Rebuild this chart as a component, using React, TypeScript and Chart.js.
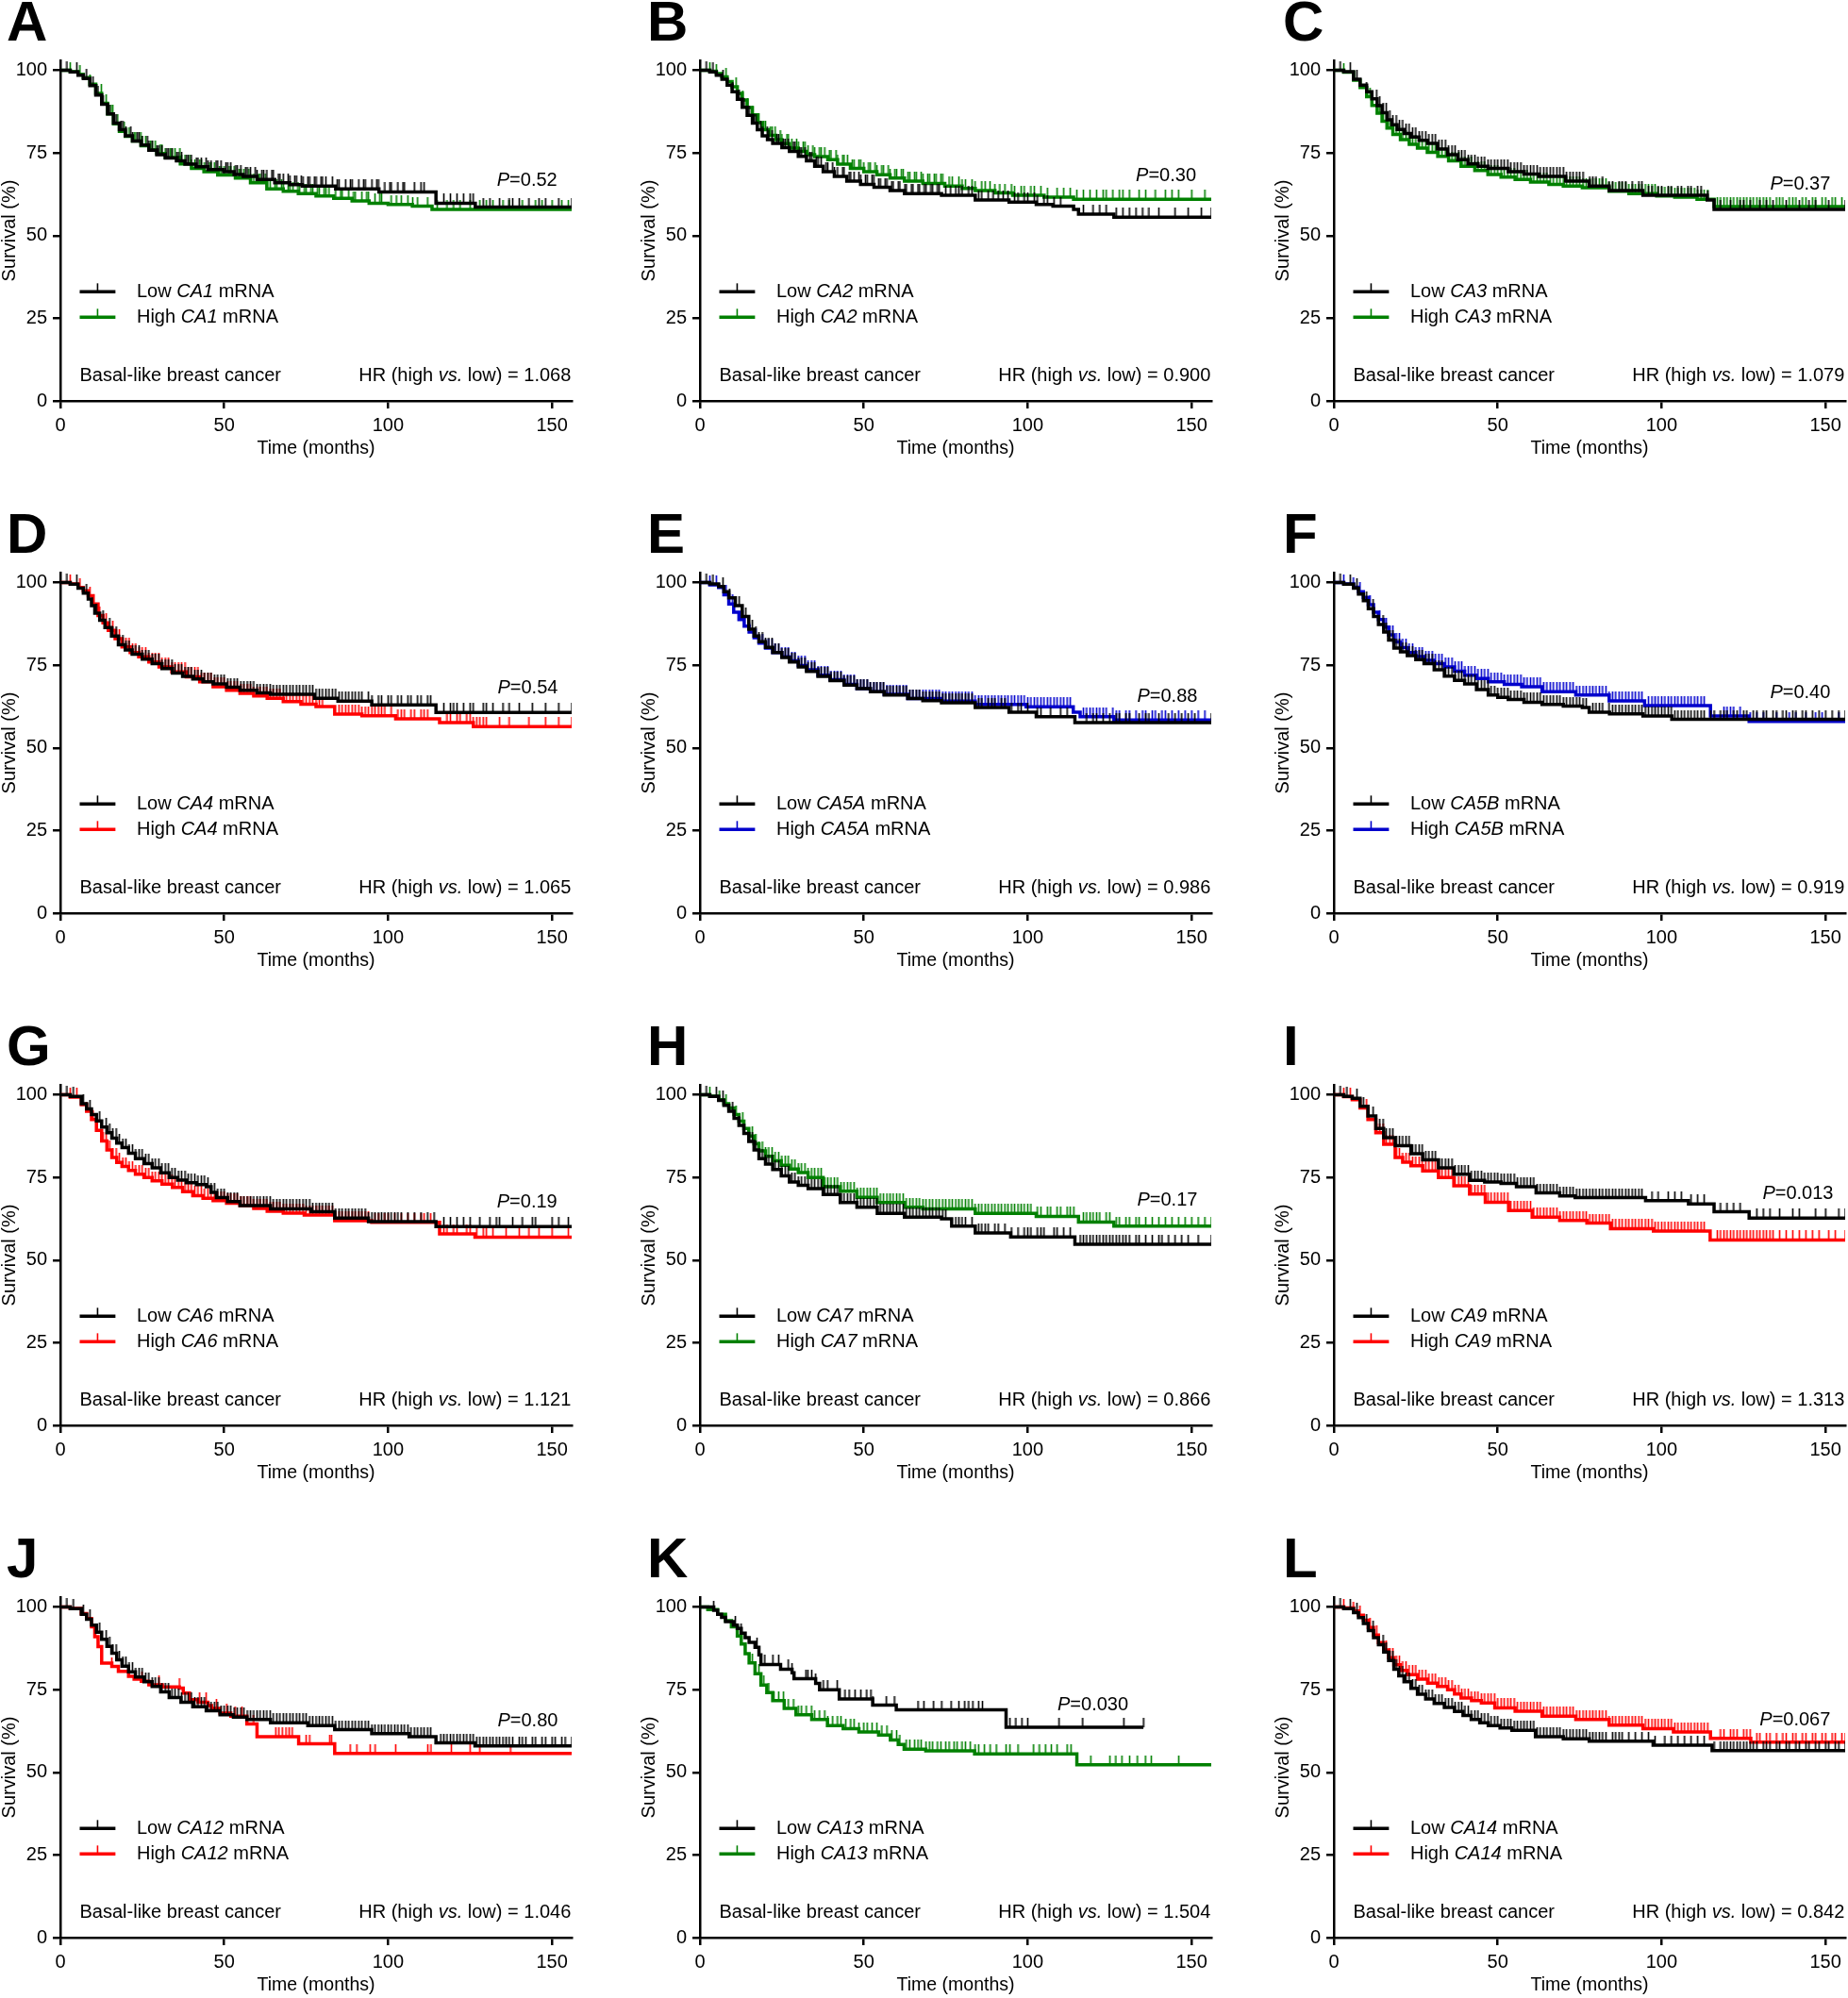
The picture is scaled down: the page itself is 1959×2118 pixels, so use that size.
import React, { useEffect, useRef } from 'react';
import { Chart, registerables } from 'chart.js';

Chart.register(...registerables);

const FONT = '"Liberation Sans", Arial, Helvetica, sans-serif';
const BLACK = '#000000';
const GREEN = '#008000';
const RED = '#ff0000';
const BLUE = '#0000cc';

// ---------- axis ticks ----------
const xTickValues = [0, 50, 100, 150];
const yTickValues = [0, 25, 50, 75, 100];
const X_MAX = 156;
const Y_MAX = 103;

// ---------- panel labels ----------
const panelLetters = ['A', 'B', 'C', 'D', 'E', 'F', 'G', 'H', 'I', 'J', 'K', 'L'];
const geneNames = ['CA1', 'CA2', 'CA3', 'CA4', 'CA5A', 'CA5B', 'CA6', 'CA7', 'CA9', 'CA12', 'CA13', 'CA14'];
const pValues = ['0.52', '0.30', '0.37', '0.54', '0.88', '0.40', '0.19', '0.17', '0.013', '0.80', '0.030', '0.067'];
const hrValues = ['1.068', '0.900', '1.079', '1.065', '0.986', '0.919', '1.121', '0.866', '1.313', '1.046', '1.504', '0.842'];
const highColors = [GREEN, GREEN, GREEN, RED, BLUE, BLUE, RED, GREEN, RED, RED, GREEN, RED];
const pLabelX = [151.6, 151.4, 151.5, 151.8, 151.8, 151.5, 151.6, 151.8, 152.4, 151.8, 130.7, 151.5];
const pLabelY = [66.6, 68.0, 65.6, 68.1, 65.6, 66.6, 67.6, 68.1, 70.0, 65.4, 70.4, 65.9];

// ---------- survival steps [months, survival %] ----------
const ca1Low = [[0,100],[3,99.5],[5.4,98.5],[7,97.5],[9,95.4],[10.8,92.5],[12.6,89.7],[14.4,86.8],[16.2,84],[18,82],[19.8,80.2],[22,78.6],[24.6,77.4],[27,75.8],[29.4,74.5],[32,73.5],[35.4,72.6],[38,71.6],[41.4,70.8],[45,70],[49.8,69.3],[53,68.5],[55.8,67.9],[60,67],[65.4,66],[70,65.4],[73.8,65],[84,64.1],[97.2,63.2],[114.6,59.8],[126.6,58.6],[156,58.6]];
const ca1High = [[0,100],[3,99.6],[5.4,98.8],[7,97.8],[9,95.8],[10.8,93],[12.6,90],[14.4,86.8],[16.2,83.8],[18,81.5],[19.8,80],[22,78.6],[24.6,77.2],[27,76],[29.4,74.8],[32,73.6],[36.6,71.7],[40,70.3],[43.8,69.3],[48,68.3],[53.4,67.4],[58,66],[63,64.1],[68,63.4],[72.6,62.7],[78,62],[83.4,61.3],[89,60.5],[94.2,59.8],[100,59.4],[107.4,58.9],[113.4,57.9],[156,57.9]];
const ca2Low = [[0,100],[3,99.5],[5,98.5],[6.7,97.3],[8.3,95.5],[9.8,93.5],[11.4,91.2],[12.9,88.8],[14.4,86.4],[16,84],[17.5,82],[19,80.2],[20.6,79],[22.2,77.9],[25,76.6],[27.3,75.5],[30,74],[32.5,72.6],[35,71],[37.6,69.3],[41,67.9],[44.8,66.5],[49,65.5],[53.1,64.6],[58,63.6],[62.4,62.7],[73.7,62.2],[84,60.8],[94.3,60.1],[102.6,59.4],[107.7,58.9],[114,57.9],[115.5,56.5],[126.3,55.6],[156,55.6]];
const ca2High = [[0,100],[3,99.7],[5,99],[6.7,98],[8.3,96.6],[9.8,95],[11.4,93],[12.9,91],[14.4,88.7],[16,86.5],[17.5,84.2],[19,82],[21,80.3],[23.2,79],[25,77.8],[27.3,76.5],[30,75.5],[32.5,74.5],[35,73.9],[39,73],[42,71.6],[45.9,70.3],[50,69.3],[54,68.4],[58,67.4],[62.4,66.5],[68,65.8],[74.7,65],[80,64.3],[84,63.6],[90,62.9],[95.4,62.2],[105,61.6],[114,61],[156,61]];
const ca3Low = [[0,100],[3,99.6],[6,97.3],[8,95.5],[10,93.5],[11.6,91.4],[13.2,89.3],[14.7,87.2],[16.2,85],[17.7,83.5],[19.3,82.1],[21.4,80.9],[23.4,79.8],[26,78.8],[28.6,77.9],[31.6,76.2],[34.7,74.5],[37.8,73],[40.9,71.7],[44,71],[47,70.3],[53.2,69.3],[58,68.6],[62.5,67.9],[70.7,66.5],[77.9,65],[84,63.6],[94.3,62.2],[113.9,60.8],[116,57.9],[156,57.9]];
const ca3High = [[0,100],[3,99.4],[6,97],[8,94.8],[10,92],[11.6,89.4],[13.2,87],[14.7,84.6],[16.2,82.5],[18,80.6],[20.3,79],[23,77.6],[25.5,76.5],[28.5,75.2],[31.7,74],[35,72.6],[38.8,71],[43,69.7],[47,68.5],[51,67.7],[55.3,67],[60,66.2],[65.6,65.5],[70,65],[75.8,64.5],[84,63.4],[90,62.7],[98.5,62],[104,61.6],[110.8,61],[116,58.8],[156,58.8]];
const ca4Low = [[0,100],[3,99.5],[5.4,98.3],[7,96.8],[8.5,95],[9.5,93],[10.5,90.7],[12,88.6],[13.6,86.4],[15.6,83.8],[17.7,81.2],[19.8,79.6],[21.9,78.3],[25,76.8],[28,75.5],[31,74],[34.2,72.6],[37.3,71.6],[40.4,70.8],[43.5,70],[46.6,69.3],[50.7,68.3],[54.8,67.4],[60,66.6],[64.1,66.2],[77.5,65],[84.7,64.1],[95,63],[114.6,60.7],[156,60.7]];
const ca4High = [[0,100],[3,99.6],[5.4,98.5],[7,97.5],[8.5,96],[10,93.5],[11.5,90],[13,87.8],[14.6,85.5],[16.7,83],[18.8,80.5],[21.3,78.8],[23.9,77.5],[27,76],[30.1,74.5],[34,73],[38.4,71.5],[42.5,70],[46.6,68.5],[50.7,67.4],[54.8,66.5],[59,65.7],[63.1,65],[68,64],[73.4,63.2],[78,62.5],[83.7,60.2],[92,59.7],[102.3,58.8],[115.7,57.6],[126,56.4],[156,56.4]];
const ca5aLow = [[0,100],[3,99.6],[5.7,98.8],[7.3,97.2],[8.8,95.4],[10.8,93],[12.9,89.7],[14.9,85.9],[16.5,83.8],[18,82.1],[20,80.4],[22.2,78.8],[25,77.3],[27.3,76],[30,74.5],[32.5,73.1],[36,71.6],[39.7,70.3],[44,69],[47.9,67.9],[52,67],[56.2,66],[63.4,64.9],[68,64.3],[73.7,63.6],[84,62.2],[94.3,60.8],[102.6,59.4],[114.4,57.6],[156,57.6]];
const ca5aHigh = [[0,100],[3,99.3],[5.7,98.5],[7.3,96.3],[8.8,93.5],[10.3,91],[11.9,88.8],[13.5,86.8],[15,85],[16.5,83.3],[18,81.7],[20,80.2],[22.2,78.8],[25,77.5],[27.3,76.3],[30,74.9],[32.5,73.6],[36,72],[39.7,70.6],[44,69.2],[47.9,67.9],[52,67],[56.2,66.2],[63.4,64.9],[73.7,64.1],[84,63.1],[99.5,62.4],[113.9,60.8],[116,59.4],[126.3,58.4],[156,58.4]];
const ca5bLow = [[0,100],[3,99.5],[6,98.3],[7.5,96.5],[9,94.5],[10.5,92.1],[12.1,89.7],[13.6,87.3],[15.2,85],[16.7,82.6],[18.3,80.2],[20.3,79],[22.4,77.9],[25,76.7],[27.5,75.5],[30.6,73.6],[33.7,71.7],[36.8,70.4],[39.9,69.3],[43.5,67.6],[47.1,66],[50,65.3],[53.2,64.6],[58,63.8],[63.5,63.1],[70,62.6],[75.8,62.2],[77.9,60.8],[84.1,60.3],[94.3,59.6],[103.1,58.6],[156,58.6]];
const ca5bHigh = [[0,100],[3,99.6],[6,98.6],[7.5,97.2],[9,95.5],[10.5,93.3],[12.1,91],[13.6,88.8],[15.2,86.5],[16.7,84.2],[18.3,82],[20.3,80.3],[22.4,78.8],[25,77.6],[27.5,76.5],[30.6,75.5],[33.7,74.5],[36.8,73.2],[39.9,72],[43.5,71],[47.1,70],[52,69.2],[57.3,68.5],[63.5,67],[73.8,66],[84,64.2],[94.8,62.8],[114.9,59.6],[126.7,58],[156,58]];
const ca6Low = [[0,100],[3,99.5],[6.4,97.3],[8,95.7],[9.5,94],[11,92.1],[12.6,90.2],[14.2,88.5],[15.7,86.9],[17.2,85.4],[18.8,84],[20.8,82.3],[22.9,80.7],[25.5,79.2],[28,77.9],[30.6,76.4],[33.2,75],[35.8,74.2],[38.4,73.4],[41.5,72.8],[44.5,72.2],[46,70.5],[47.6,68.9],[51,67.7],[54.8,66.5],[64.1,65.5],[76.5,64.6],[83.7,62.7],[94,61.6],[114.6,60.1],[156,60.1]];
const ca6High = [[0,100],[3,99.3],[6.4,97],[8,95],[9.5,92.5],[11,89.2],[12.6,86],[14.2,83.3],[15.7,81],[17.2,79.5],[18.8,78.3],[20.8,77.1],[22.9,76],[25.5,75],[28,74],[31,73],[34.2,72],[37.3,70.7],[40.4,69.5],[43.5,68.7],[46.6,68],[50.7,67.2],[54.8,66.5],[59,65.6],[63.1,64.8],[68,64.2],[74.4,63.6],[83.7,61.9],[95,61.4],[115.7,57.9],[126.5,56.9],[156,56.9]];
const ca7Low = [[0,100],[3,99.5],[5.7,98.3],[7.3,96.8],[8.8,95],[10.4,92.9],[11.9,90.7],[13.4,88.3],[14.9,85.9],[16.5,83.3],[18,80.7],[20,79],[22.2,77.4],[24.8,75.5],[27.3,73.6],[30,72.6],[33,71.6],[37.6,69.8],[42.8,67.4],[47.9,66],[54.1,64.1],[62.4,63],[73.7,62.5],[76.8,60.3],[84,58.2],[94.8,57],[114.4,54.8],[156,54.8]];
const ca7High = [[0,100],[3,99.6],[5.7,98.5],[7.3,97.3],[8.8,96],[10.4,94],[11.9,92],[13.4,89.8],[14.9,87.5],[16.5,85.2],[18,83],[20,81.4],[22.2,80],[24.8,78.7],[27.3,77.5],[30,76.5],[33,75],[37.6,72.2],[42.8,70.8],[47.9,69],[54.1,67.4],[62.4,66],[68,65.5],[84,64.1],[102.6,63.2],[115.5,61.5],[126.3,60.3],[156,60.3]];
const ca9Low = [[0,100],[3,99.5],[5.6,98.9],[8,96.5],[10.4,93.6],[12.8,89.8],[15.2,87],[18.7,84.6],[23.5,82.2],[27.1,80.3],[31.9,77.9],[36.6,76],[41.4,74.1],[46,73.6],[51,73.2],[55.7,72.2],[61.7,70.3],[68.9,69.4],[73.6,68.9],[95.1,68],[108.2,67],[116,64.6],[126.7,62.7],[156,62.7]];
const ca9High = [[0,100],[3,99.4],[5.6,98.5],[8,96],[10.4,92.5],[12.8,88.5],[15.2,85],[18.7,81],[21,79.6],[23.5,78.5],[27.1,77],[31.9,75],[36.6,72.5],[41.4,70],[46.2,67.5],[53.3,65],[60.5,63],[68.9,62],[77.2,61.2],[84.4,59.5],[97.5,58.8],[114.8,56.1],[156,56.1]];
const ca12Low = [[0,100],[3,99.5],[6.4,97.8],[8,96.3],[9.5,94.5],[11,92.4],[12.6,90.2],[14.2,88.1],[15.7,86],[17.2,84],[18.8,82.1],[20.8,80.4],[22.9,78.8],[25.5,77.4],[28,76],[30.6,74.3],[33.2,72.6],[36.8,71.2],[40.4,69.8],[44.5,68.6],[48.7,67.4],[52.8,66.7],[56.9,66],[64.1,65],[75.5,64.1],[83.7,62.9],[95,61.7],[106.4,60.8],[114.6,58.9],[126.5,58],[156,58]];
const ca12High = [[0,100],[3,99.6],[6.4,98],[8,96.5],[9.5,94],[10.5,91],[11.5,88],[12.6,83],[15.7,82],[17.7,80.5],[20.8,79],[22.5,78.2],[24.7,77.5],[27,76.5],[31.1,75.8],[36.3,75.5],[37.5,74],[39.4,72],[42,71.2],[45,70.2],[46.1,69.3],[48.7,67.9],[52,67],[56.9,64.6],[60,60.8],[72.7,58.6],[83.7,55.7],[156,55.7]];
const ca13Low = [[0,100],[4.2,99],[5.4,97.8],[6.6,96.9],[7.8,95.6],[10.2,94.5],[11.4,93.5],[12.6,92.1],[13.8,90.7],[15,89.3],[16.8,87.8],[18,85.5],[18.6,82.6],[24.6,81.2],[28.1,80.1],[28.7,78.3],[35.3,76.9],[36.5,75],[42.5,72.2],[52.7,70.3],[59.9,68.9],[93.4,63.6],[135.3,63.6]];
const ca13High = [[0,100],[2.4,99.2],[5.4,97.8],[7.8,95.9],[9.6,94],[11.4,91.2],[12.6,88.8],[13.8,85.9],[15,83.1],[16.8,79.8],[18.6,76.4],[20.4,74.1],[22.2,71.7],[25.7,69.3],[29.3,67.4],[34.1,66],[38.9,64.1],[43.7,63.2],[48.5,62.2],[54.5,61.3],[58.1,59.8],[60.5,58.4],[62.3,57],[68.9,56.5],[83.8,55.6],[115,52.3],[156,52.3]];
const ca14Low = [[0,100],[3,99.5],[6,98.3],[7.5,96.8],[9,95],[10.5,92.9],[12.1,90.7],[13.6,88.6],[15.2,86.4],[16.7,83.8],[18.3,81.2],[19.8,79.2],[21.4,77.4],[23.5,75.4],[25.5,73.6],[28,72.2],[30.6,70.8],[33.7,69.6],[36.8,68.4],[39.4,67.2],[41.9,66],[44.5,65],[47.1,64.1],[50.7,63.4],[54.3,62.7],[61.5,60.8],[70,60.1],[77.9,59.4],[97.4,58.2],[115.4,56.6],[156,56.6]];
const ca14High = [[0,100],[3,99.7],[6,98.8],[7.5,97.5],[9,96],[10.5,93.8],[12.1,91.5],[13.6,89.2],[15.2,87],[16.7,84.7],[18.3,82.5],[20.3,80.8],[22.4,79.5],[25.5,78.2],[28.6,77],[31.6,76],[34.7,75],[36.8,73.7],[38.8,72.5],[42,71.7],[45,71],[49.1,69.5],[55.3,68.5],[63.5,67],[73.8,66],[84,64.3],[94.3,63.2],[103.6,62.2],[114.9,60.3],[127.2,59.1],[156,59.1]];

// ---------- censored times (months) ----------
const ca1LowCens = [2,5,8,10,13,15,17,19,20,22,24,25,27,28,30,31,33,34,36,37,39,40,42,43,45,46,48,49,51,52,54,55,57,58,60,62,63,65,67,68,70,72,74,76,78,80,81,83,85,87,89,91,93,95,97,99,101,103,105,108,111,117,119,121,123,126,129,131,134,137,140,148,152,156,11.5,14.5,16.5,18.5,21.5,23.5,26.5,29.5,32.5,35.5,38.5,41.5,44.5,47.5,50.5,53.5,56.5,59.5,61.5,64.5,66.5,69.5,71.5,73.5,75.5,77.5,79.5,84.5,88.5,92.5,96.5,100.5,104.5,110,125,138,143,146];
const ca1HighCens = [3,6,9,11,14,16,18,20,21,23,25,26,28,29,31,32,34,35,37,38,40,41,43,44,46,47,49,50,52,53,55,56,58,59,61,63,64,66,68,70,71,73,75,77,79,81,82,84,86,88,90,92,94,96,98,101,104,106,109,112,115,118,122,125,128,132,137,141,145,150,155,12.5,15.5,17.5,19.5,22.5,24.5,27.5,30.5,33.5,36.5,39.5,42.5,45.5,48.5,51.5,54.5,57.5,60.5,62.5,65.5,67.5,69.5,72.5,74.5,76.5,78.5,80.5,85.5,89.5,93.5,97.5,102.5,107.5,120,130,135,147,153];
const ca2LowCens = [2,4,7,10,12,15,17,19,21,22,24,26,27,29,31,32,34,36,37,39,41,42,44,46,47,49,51,53,55,57,59,61,63,65,67,69,71,73,75,78,80,83,86,88,91,94,97,100,103,106,110,117,120,122,124,127,129,131,133,135,137,140,145,149,153,156,13.5,16.5,18.5,20.5,23.5,25.5,28.5,30.5,33.5,35.5,38.5,40.5,43.5,45.5,48.5,50.5,52.5,54.5,56.5,58.5,60.5,62.5,64.5,66.5,68.5,70.5,72.5,76.5,79,82,85,89.5,92.5,96,99,102,105,108];
const ca2HighCens = [3,5,8,11,13,16,18,20,22,23,25,27,28,30,32,33,35,37,38,40,42,44,45,47,49,50,52,54,56,58,60,62,64,66,68,70,72,74,76,79,81,84,87,90,93,96,99,102,106,109,113,117,119,121,124,126,128,131,134,136,139,142,146,150,154,14.5,17.5,19.5,21.5,24.5,26.5,29.5,31.5,34.5,36.5,39.5,41.5,43.5,46.5,48.5,51.5,53.5,55.5,57.5,59.5,61.5,63.5,65.5,67.5,69.5,71.5,73.5,77,80,83,86,88.5,91.5,95,98,101,104,111,115,123,129,144];
const ca3LowCens = [2,5,7,10,13,15,17,19,21,23,24,26,28,29,31,33,34,36,38,39,41,43,44,46,48,50,52,54,56,58,60,62,64,66,68,70,72,74,76,79,82,85,87,89,91,94,97,100,103,106,109,112,118,121,124,127,130,134,138,142,147,151,156,14,16,18,20,22,25,27,30,32,35,37,40,42,45,47,49,51,53,55,57,59,61,63,65,67,69,71,73,75,78,80,84,88,93,96,99,102,105,108,111,114,125,132,145];
const ca3HighCens = [3,6,8,11,14,16,18,20,22,24,25,27,29,30,32,34,35,37,39,40,42,44,46,48,50,51,53,55,57,59,61,63,65,67,69,71,73,75,78,81,84,86,88,90,93,96,99,102,105,108,111,114,117,119,121,123,126,128,131,135,139,143,147,152,155,15,17,19,21,23,26,28,31,33,36,38,41,43,45,47,49,52,54,56,58,60,62,64,66,68,70,72,74,76,77,79,80,82,83,85,87,89,91,92,94,95,97,98,100,101,103,104,106,107,109,110,112,113,118,120,122,124,125,127,129,130,132,133,136,137,140,141,144,146,149,150,153];
const ca4LowCens = [2,5,8,11,13,16,18,20,22,24,26,28,30,32,34,36,38,40,42,44,46,48,50,52,54,56,58,60,62,64,66,68,70,72,74,76,78,80,82,84,86,88,90,92,95,98,101,104,107,110,113,117,119,121,123,126,129,132,135,140,144,148,152,156,15,17,19,21,23,25,27,29,31,33,35,37,39,41,43,45,47,49,51,53,55,57,59,61,63,65,67,69,71,73,75,77,79,81,83,85,87,89,91,94,97,100,103,106,109,112,120,125,130,137];
const ca4HighCens = [3,6,9,12,14,17,19,21,23,25,27,29,31,33,35,37,39,41,43,45,47,49,51,53,55,57,59,61,63,65,67,69,71,73,75,77,79,85,87,89,91,93,95,97,99,104,107,110,112,118,121,124,126,128,130,134,137,143,148,152,156,16,18,20,22,24,26,28,30,32,34,36,38,40,42,44,46,48,50,52,54,56,58,60,62,64,66,68,70,72,74,76,78,80,86,88,90,92,94,96,98,101,103,105,108,111,119,122,125,127,129];
const ca5aLowCens = [2,4,7,9,12,14,17,19,21,23,25,27,29,31,33,35,37,39,41,43,45,47,49,51,53,55,57,59,61,63,65,67,69,71,73,75,77,79,81,83,86,88,90,92,95,97,100,104,107,110,118,121,123,125,128,131,134,137,140,143,147,151,156,16,18,20,22,24,26,28,30,32,34,36,38,40,42,44,46,48,50,52,54,56,58,60,62,64,66,68,70,72,74,76,78,80,82,85,89,93,98,103,112,120,127,130,136,145,149];
const ca5aHighCens = [3,5,8,10,13,15,18,20,22,24,26,28,30,32,34,36,38,40,42,44,46,48,50,52,54,56,58,60,62,64,66,68,70,72,74,76,78,80,82,84,87,89,91,93,96,98,101,103,105,108,111,113,117,120,122,124,127,130,133,136,139,142,146,150,154,17,19,21,23,25,27,29,31,33,35,37,39,41,43,45,47,49,51,53,55,57,59,61,63,65,67,69,71,73,75,77,79,81,83,85,86,88,90,92,94,95,97,99,100,102,104,106,107,109,110,112,118,119,121,123,126,128,131,135,138,141,144,148,152];
const ca5bLowCens = [2,5,7,10,12,15,17,19,21,23,25,27,29,31,33,35,37,39,41,43,45,47,49,51,53,55,57,59,61,63,65,67,69,71,73,75,77,80,82,85,87,89,91,93,96,98,101,104,106,109,112,115,118,120,123,126,129,132,135,138,141,144,148,152,156,16,18,20,22,24,26,28,30,32,34,36,38,40,42,44,46,48,50,52,54,56,58,60,62,64,66,68,70,72,74,76,79,81,84,86,88,90,92,94,95,97,99,100,102,103,105,107,108,110,111,113,116,119,122,125,128,131,134,137,140,143,146,150,154];
const ca5bHighCens = [3,6,8,11,14,16,18,20,22,24,26,28,30,32,34,36,38,40,42,44,46,48,50,52,54,56,58,60,62,64,66,68,70,72,74,76,78,80,82,85,86,88,90,92,96,98,100,102,104,106,108,110,112,119,121,124,127,131,135,139,144,149,154,17,19,21,23,25,27,29,31,33,35,37,39,41,43,45,47,49,51,53,55,57,59,61,63,65,67,69,71,73,75,77,79,81,83,84,87,89,91,93,94,97,99,101,103,105,107,109,111,113,120,122,129,141,147];
const ca6LowCens = [2,4,7,9,12,14,16,18,20,22,24,26,28,30,32,34,36,38,40,42,44,46,48,50,52,54,56,58,60,62,64,66,68,70,72,74,76,78,80,82,84,86,88,90,92,94,96,98,100,102,104,108,112,119,123,128,131,134,138,141,145,150,155,15,17,19,21,23,25,27,29,31,33,35,37,39,41,43,45,47,49,51,53,55,57,59,61,63,65,67,69,71,73,75,77,79,81,83,85,87,89,91,93,95,97,99,101,103,106,110,114,117,121,125,133,144,152];
const ca6HighCens = [3,5,8,10,13,15,17,19,21,23,25,27,29,31,33,35,37,39,41,43,45,47,49,51,53,55,57,59,61,63,65,67,69,71,73,75,77,79,81,83,85,87,89,91,93,96,99,102,106,110,113,117,120,124,127,129,132,136,140,143,146,150,155,14,16,18,20,22,24,26,28,30,32,34,36,38,40,42,44,46,48,50,52,54,56,58,60,62,64,66,68,70,72,74,76,78,80,82,84,86,88,90,92,94,97,100,104,108,111,118,121,125,130];
const ca7LowCens = [2,5,7,10,12,15,17,19,21,23,25,27,29,31,33,35,37,39,41,43,45,47,49,51,53,55,57,59,61,63,65,67,69,71,73,75,79,81,83,86,88,91,93,97,99,101,103,105,108,111,113,117,119,121,123,125,127,129,131,134,138,141,145,149,156,16,18,20,22,24,26,28,30,32,34,36,38,40,42,44,46,48,50,52,54,56,58,60,62,64,66,68,70,72,74,78,80,85,87,90,95,100,104,109,116,118,120,122,124,126,128,130,133,136,140,143,147,152];
const ca7HighCens = [3,6,8,11,13,16,18,20,22,24,26,28,30,32,34,36,38,40,42,44,46,48,50,52,54,56,58,60,62,64,66,68,70,72,74,76,78,80,82,84,86,88,90,92,94,96,98,100,103,106,109,112,114,117,119,122,124,127,130,133,136,140,144,148,152,156,17,19,21,23,25,27,29,31,33,35,37,39,41,43,45,47,49,51,53,55,57,59,61,63,65,67,69,71,73,75,77,79,81,83,85,87,89,91,93,95,97,99,101,104,107,110,113,118,120,121,125,128,131,134,138,142,146,150,154];
const ca9LowCens = [2,4,7,9,12,14,16,18,20,22,24,26,28,30,32,34,36,38,40,42,44,46,48,50,52,54,56,58,60,62,64,66,68,70,72,74,76,78,80,82,84,86,88,90,92,94,97,99,102,104,106,109,111,113,118,120,122,124,129,131,133,136,140,142,147,150,154,156,15,17,19,21,23,25,27,29,31,33,35,37,39,41,43,45,47,49,51,53,55,57,59,61,63,65,67,69,71,73,75,77,79,81,83,85,87,89,91,93];
const ca9HighCens = [3,5,8,10,13,15,17,19,21,23,25,27,29,31,33,35,37,39,41,43,45,47,49,51,53,55,57,59,61,63,65,67,69,71,73,75,77,79,81,83,85,87,89,91,93,95,97,99,101,103,105,107,109,111,113,117,119,121,123,125,127,129,131,133,136,138,140,144,146,148,151,153,156,14,16,18,20,22,24,26,28,30,32,34,36,38,40,42,44,46,48,50,52,54,56,58,60,62,64,66,68,70,72,74,76,78,80,82,84,86,88,90,92,94,96,98,100,102,104,106,108,110,112,118,120,122,124,126,128,130,132,134,142];
const ca12LowCens = [2,4,7,9,12,14,16,18,20,22,24,26,28,30,32,34,36,38,40,42,44,46,48,50,52,54,56,58,60,62,64,66,68,70,72,74,76,78,80,82,84,86,88,90,92,94,96,98,100,102,104,106,108,110,112,116,118,120,122,124,127,129,131,133,135,137,140,142,145,148,151,154,156,15,17,19,21,23,25,27,29,31,33,35,37,39,41,43,45,47,49,51,53,55,57,59,61,63,65,67,69,71,73,75,77,79,81,83,85,87,89,91,93,95,97,99,101,103,105,107,109,111,113,117,119,121,123,125,126,128,130,132,134,136,138,141,144,147,150,153];
const ca12HighCens = [15.7,20.8,24.9,30.1,36.3,42.5,44.5,47.6,50.7,53.3,55.4,59,65.7,66.7,67.7,68.8,69.8,70.8,75,76,82.2,82.7,88.4,90.4,94.5,96.1,102.3,112.1,113.1,119.3,125,128,137.3];
const ca13LowCens = [4.2,10.8,12.6,17.4,19.8,22.2,24,27,28.1,32.3,32.9,34.1,35.3,37.7,38.9,41.9,44.3,45.5,47.3,49.1,50.9,52.1,52.7,56.9,59.3,66.5,68.3,71.3,73.7,76.6,79,80.8,82,83.2,85,86.2,94.6,96.4,98.2,100,109.6,116.8,129.3,135.3];
const ca13HighCens = [16,18,19.5,21,22.5,24,25.5,27,28.5,30,31,32.5,34,35,36.5,38,39,40.5,42,43,44.5,46,47,48.5,50,51,52.5,54,55.5,57,58.5,60,61,63,64,65.5,66.5,67.5,69,70,71,72.5,73.5,75,76,77.5,78.5,80,81,82.5,84,85,86.8,88.6,90.4,93.4,94.6,97,101.8,103.6,105.4,107.2,109,112,113.2,119.2,125.1,126.9,128.7,131.1,133.5,135.9,137.7,146.1];
const ca14LowCens = [2,5,7,10,12,15,17,19,21,23,25,27,29,31,33,35,37,39,41,43,45,47,49,51,53,55,57,59,61,63,65,67,69,71,73,75,77,79,81,83,85,87,90,92,94,96,98,101,103,105,107,109,111,113,118,120,122,124,126,128,131,133,136,139,142,145,148,151,154,156,16,18,20,22,24,26,28,30,32,34,36,38,40,42,44,46,48,50,52,54,56,58,60,62,64,66,68,70,72,74,76,78,80,82,86,88,116,119,121,123,125,127,129,132,135,138,141,144,147,150,153];
const ca14HighCens = [3,6,8,11,13,16,18,20,22,24,26,28,30,32,34,36,38,40,42,44,46,48,50,52,54,56,58,60,62,64,66,68,70,72,74,76,78,80,82,84,86,88,90,92,94,96,98,100,102,104,106,108,110,112,114,118,121,123,125,127,130,133,135,138,141,144,147,150,153,156,17,19,21,23,25,27,29,31,33,35,37,39,41,43,45,47,49,51,53,55,57,59,61,63,65,67,69,71,73,75,77,79,81,83,85,87,89,91,93,95,97,99,101,103,105,107,109,111,113,119,122,126,129,132,137,140,143,146,149,152,155];

const lowSteps = [ca1Low, ca2Low, ca3Low, ca4Low, ca5aLow, ca5bLow, ca6Low, ca7Low, ca9Low, ca12Low, ca13Low, ca14Low];
const highSteps = [ca1High, ca2High, ca3High, ca4High, ca5aHigh, ca5bHigh, ca6High, ca7High, ca9High, ca12High, ca13High, ca14High];
const lowCensored = [ca1LowCens, ca2LowCens, ca3LowCens, ca4LowCens, ca5aLowCens, ca5bLowCens, ca6LowCens, ca7LowCens, ca9LowCens, ca12LowCens, ca13LowCens, ca14LowCens];
const highCensored = [ca1HighCens, ca2HighCens, ca3HighCens, ca4HighCens, ca5aHighCens, ca5bHighCens, ca6HighCens, ca7HighCens, ca9HighCens, ca12HighCens, ca13HighCens, ca14HighCens];

// ---------- layout ----------
const COL_LEFT = [0, 678, 1350];
const Y100_ROW = [74, 617, 1160, 1703];
const LETTER_LEFT = [7, 686, 1360];
const LETTER_SIZE = 60;
const PAD_TOP = 18;
const TOP_EXTRA = 10.5; // pixels between the 100 tick and the top of the axis
const CANVAS_W = 631;
const CANVAS_H = 449;
const Y_AXIS_W = 64;
const X_AXIS_H = 70;
const PAD_RIGHT = 25;

// legend / annotation placement (data units)
const LEGEND_LINE_FROM = 5.9;
const LEGEND_LINE_TO = 16.8;
const LEGEND_TEXT_AT = 23.3;
const LEGEND_ROW_Y = [33.0, 25.3];
const COHORT_X = 5.9;
const COHORT_Y = 7.7;
const HR_X = 155.8;
const TEXT_SIZE = 20;

function survivalAt(steps: number[][], t: number): number {
  let v = steps[0][1];
  for (const [x, y] of steps) {
    if (x <= t) v = y;
    else break;
  }
  return v;
}

function makeTick(color: string): HTMLCanvasElement {
  const c = document.createElement('canvas');
  c.width = 3;
  c.height = 20;
  const g = c.getContext('2d')!;
  g.fillStyle = color;
  g.fillRect(0.7, 0, 1.6, 10);
  return c;
}

type Seg = [string, boolean];

function drawRich(ctx: CanvasRenderingContext2D, segs: Seg[], x: number, y: number, align: 'left' | 'right', size: number) {
  const fN = `${size}px ${FONT}`;
  const fI = `italic ${size}px ${FONT}`;
  let total = 0;
  const widths = segs.map(([t, it]) => {
    ctx.font = it ? fI : fN;
    const w = ctx.measureText(t).width;
    total += w;
    return w;
  });
  let cx = align === 'left' ? x : x - total;
  ctx.textBaseline = 'middle';
  ctx.textAlign = 'left';
  ctx.fillStyle = '#000';
  segs.forEach(([t, it], i) => {
    ctx.font = it ? fI : fN;
    ctx.fillText(t, cx, y);
    cx += widths[i];
  });
}

function KMPanel({ idx }: { idx: number }) {
  const ref = useRef<HTMLCanvasElement | null>(null);
  useEffect(() => {
    const canvas = ref.current;
    if (!canvas) return;
    const hc = highColors[idx];
    const low = lowSteps[idx];
    const high = highSteps[idx];
    const gene = geneNames[idx];
    const tickLow = makeTick(BLACK);
    const tickHigh = makeTick(hc);

    const annot = {
      id: 'kmAnnot',
      afterDatasetsDraw(chart: any) {
        const ctx: CanvasRenderingContext2D = chart.ctx;
        const xs = chart.scales.x;
        const ys = chart.scales.y;
        ctx.save();
        const rows: [string, string, number][] = [
          ['Low ', BLACK, LEGEND_ROW_Y[0]],
          ['High ', hc, LEGEND_ROW_Y[1]],
        ];
        rows.forEach(([label, col, yv]) => {
          const py = ys.getPixelForValue(yv);
          const x1 = xs.getPixelForValue(LEGEND_LINE_FROM);
          const x2 = xs.getPixelForValue(LEGEND_LINE_TO);
          ctx.strokeStyle = col;
          ctx.lineWidth = 3.5;
          ctx.beginPath();
          ctx.moveTo(x1, py);
          ctx.lineTo(x2, py);
          ctx.stroke();
          ctx.lineWidth = 1.6;
          ctx.beginPath();
          ctx.moveTo((x1 + x2) / 2, py);
          ctx.lineTo((x1 + x2) / 2, py - 9);
          ctx.stroke();
          drawRich(ctx, [[label, false], [gene, true], [' mRNA', false]], xs.getPixelForValue(LEGEND_TEXT_AT), py, 'left', TEXT_SIZE);
        });
        drawRich(ctx, [['P', true], ['=' + pValues[idx], false]], xs.getPixelForValue(pLabelX[idx]), ys.getPixelForValue(pLabelY[idx]), 'right', TEXT_SIZE);
        drawRich(ctx, [['Basal-like breast cancer', false]], xs.getPixelForValue(COHORT_X), ys.getPixelForValue(COHORT_Y), 'left', TEXT_SIZE);
        drawRich(ctx, [['HR (high ', false], ['vs.', true], [' low) = ' + hrValues[idx], false]], xs.getPixelForValue(HR_X), ys.getPixelForValue(COHORT_Y), 'right', TEXT_SIZE);
        ctx.restore();
      },
    };

    const axisCommon = {
      border: { display: true, color: '#000', width: 2.5 },
      grid: { display: true, drawOnChartArea: false, drawTicks: true, tickLength: 8, color: '#000', lineWidth: 2.5 },
    };

    const chart = new Chart(canvas, {
      type: 'line',
      data: {
        datasets: [
          {
            data: low.map(([x, y]) => ({ x, y })),
            borderColor: BLACK,
            borderWidth: 3.5,
            stepped: true,
            pointRadius: 0,
            fill: false,
            order: 0,
          },
          {
            data: lowCensored[idx].map((t) => ({ x: t, y: survivalAt(low, t) })),
            showLine: false,
            pointStyle: tickLow,
            pointRadius: 3,
            order: 1,
          },
          {
            data: high.map(([x, y]) => ({ x, y })),
            borderColor: hc,
            borderWidth: 3.5,
            stepped: true,
            pointRadius: 0,
            fill: false,
            order: 2,
          },
          {
            data: highCensored[idx].map((t) => ({ x: t, y: survivalAt(high, t) })),
            showLine: false,
            pointStyle: tickHigh,
            pointRadius: 3,
            order: 3,
          },
        ] as any,
      },
      options: {
        responsive: false,
        animation: false,
        events: [],
        layout: { padding: { top: PAD_TOP, right: PAD_RIGHT, left: 0, bottom: 0 } },
        plugins: { legend: { display: false }, tooltip: { enabled: false } },
        scales: {
          x: {
            type: 'linear',
            min: 0,
            max: X_MAX,
            ...axisCommon,
            afterBuildTicks: (s: any) => {
              s.ticks = xTickValues.map((v) => ({ value: v }));
            },
            afterFit: (s: any) => {
              s.height = X_AXIS_H;
            },
            ticks: { color: '#000', font: { family: FONT, size: 20 }, padding: 6, maxRotation: 0, autoSkip: false },
            title: { display: true, text: 'Time (months)', color: '#000', font: { family: FONT, size: 19.5 }, padding: { top: 0, bottom: 8 } },
          },
          y: {
            type: 'linear',
            min: 0,
            max: Y_MAX,
            ...axisCommon,
            afterBuildTicks: (s: any) => {
              s.ticks = yTickValues.map((v) => ({ value: v }));
            },
            afterFit: (s: any) => {
              s.width = Y_AXIS_W;
            },
            ticks: { color: '#000', font: { family: FONT, size: 20 }, padding: 6, autoSkip: false },
            title: { display: true, text: 'Survival (%)', color: '#000', font: { family: FONT, size: 20, lineHeight: 1 }, padding: { top: 0, bottom: 0 } },
          },
        },
      } as any,
      plugins: [annot],
    });
    return () => chart.destroy();
  }, [idx]);

  const col = idx % 3;
  const row = Math.floor(idx / 3);
  const top = Math.round(Y100_ROW[row] - TOP_EXTRA - PAD_TOP);
  return (
    <canvas
      ref={ref}
      width={CANVAS_W}
      height={CANVAS_H}
      style={{ position: 'absolute', left: COL_LEFT[col], top, width: CANVAS_W, height: CANVAS_H }}
    />
  );
}

export default function App() {
  return (
    <div style={{ position: 'absolute', left: 0, top: 0, width: 1959, height: 2118, background: '#fff', overflow: 'hidden' }}>
      {panelLetters.map((letter, i) => {
        const col = i % 3;
        const row = Math.floor(i / 3);
        return (
          <div
            key={'l' + letter}
            style={{
              position: 'absolute',
              left: LETTER_LEFT[col],
              top: Y100_ROW[row] - 81,
              fontFamily: FONT,
              fontWeight: 'bold',
              fontSize: LETTER_SIZE,
              lineHeight: LETTER_SIZE + 'px',
              color: '#000',
            }}
          >
            {letter}
          </div>
        );
      })}
      {panelLetters.map((letter, i) => (
        <KMPanel key={'p' + letter} idx={i} />
      ))}
    </div>
  );
}
